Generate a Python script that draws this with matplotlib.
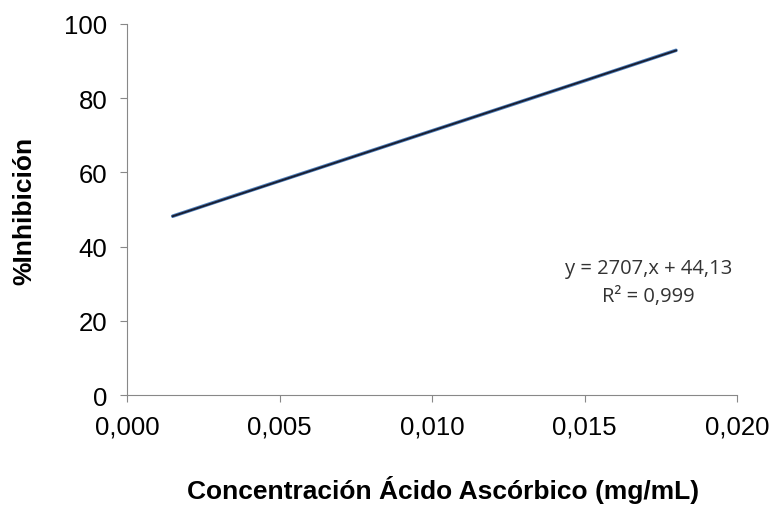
import numpy as np
import matplotlib
matplotlib.use("Agg")
import matplotlib.pyplot as plt

# -------------------- DATA --------------------
conc = [0.0015, 0.003, 0.006, 0.009, 0.012, 0.015, 0.018]
inhib = [48.2, 52.3, 60.4, 68.5, 76.6, 84.7, 92.9]
slope = 2707
intercept = 44.13
x_ticks = [0.000, 0.005, 0.010, 0.015, 0.020]
y_ticks = [0, 20, 40, 60, 80, 100]

# -------------------- PLOT --------------------
plt.rcParams['font.family'] = ['Liberation Sans', 'DejaVu Sans']
fig = plt.figure(figsize=(7.74, 5.06), dpi=100)
ax = fig.add_axes([127 / 774, 1 - 396 / 506, 610 / 774, 371 / 506])

ax.plot(conc, inhib, color='#4F81BD', lw=2.6, solid_capstyle='round')
xfit = np.array([conc[0], conc[-1]])
ax.plot(xfit, slope * xfit + intercept, color='#1a1f33', lw=1.4)

ax.set_xlim(0, 0.020)
ax.set_ylim(0, 100)
ax.set_xticks(x_ticks)
ax.set_yticks(y_ticks)
ax.set_xticklabels([f"{v:.3f}".replace('.', ',') for v in x_ticks])
ax.set_yticklabels([str(v) for v in y_ticks])
ax.tick_params(labelsize=18.5, direction='out', length=5, color='#888888', pad=9)

for s in ['top', 'right']:
    ax.spines[s].set_visible(False)
for s in ['left', 'bottom']:
    ax.spines[s].set_color('#888888')

ax.set_xlabel("Concentración Ácido Ascórbico (mg/mL)", fontsize=19, fontweight='bold', labelpad=26)
ax.xaxis.label.set_x(0.518)
ax.set_ylabel("%Inhibición", fontsize=19, fontweight='bold', labelpad=20)

ax.text(0.0171, 30.5, "y = 2707,x + 44,13\nR² = 0,999", ha='center', va='center',
        fontsize=14.5, family=['Open Sans', 'DejaVu Sans'], color='#333333', linespacing=1.55)

fig.savefig("out.png", dpi=100)
